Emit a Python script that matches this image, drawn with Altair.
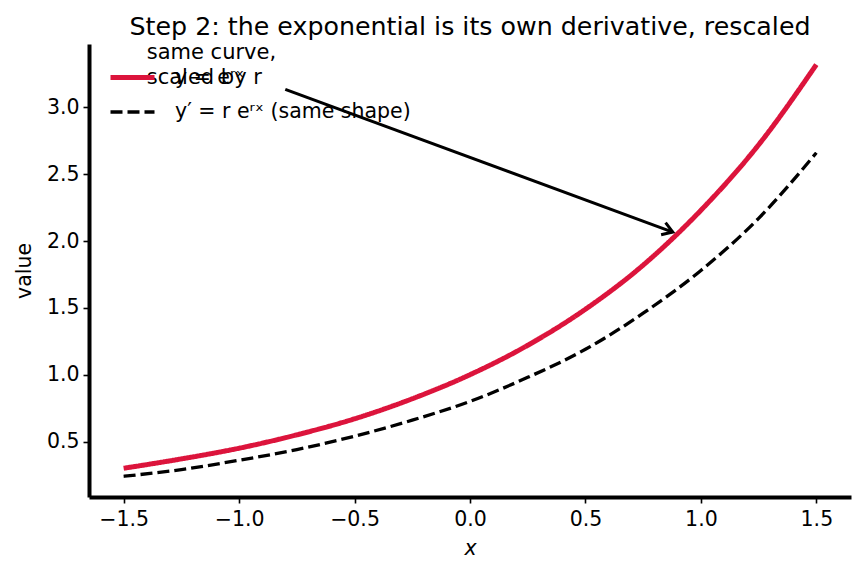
import altair as alt
import pandas as pd

# ---- data ----
x_vals = [-1.5, -1.25, -1.0, -0.75, -0.5, -0.25, 0.0, 0.25, 0.5, 0.75, 1.0, 1.25, 1.5]
y_exp = [0.30, 0.37, 0.45, 0.55, 0.67, 0.82, 1.00, 1.22, 1.49, 1.82, 2.23, 2.72, 3.32]
y_deriv = [0.24, 0.29, 0.36, 0.44, 0.54, 0.66, 0.80, 0.98, 1.19, 1.46, 1.78, 2.17, 2.66]

series_names = ["y = eʳˣ", "y′ = r eʳˣ (same shape)"]
series_colors = ["#DC143C", "#000000"]

x_ticks = [-1.5, -1.0, -0.5, 0.0, 0.5, 1.0, 1.5]
y_ticks = [0.5, 1.0, 1.5, 2.0, 2.5, 3.0]

# annotation (data units)
ann_text = ["same curve,", "scaled by r"]
ann_text_pos = [-1.4, 3.36]
arrow_start = [-0.80, 3.134]
arrow_end = [0.878, 2.067]

FONT = "DejaVu Sans"
FS = 20.5

df = pd.DataFrame({
    "x": x_vals * 2,
    "y": y_exp + y_deriv,
    "series": [series_names[0]] * len(x_vals) + [series_names[1]] * len(x_vals),
})

xscale = alt.Scale(domain=[-1.65, 1.65], nice=False, zero=False)
yscale = alt.Scale(domain=[0.085, 3.474], nice=False, zero=False)

lines = alt.Chart(df).mark_line(interpolate="monotone").encode(
    x=alt.X("x:Q", scale=xscale, title="x",
            axis=alt.Axis(values=x_ticks, format=".1f", titleFontStyle="italic")),
    y=alt.Y("y:Q", scale=yscale, title="value",
            axis=alt.Axis(values=y_ticks, format=".1f")),
    color=alt.Color("series:N", scale=alt.Scale(domain=series_names, range=series_colors),
                    title=None),
    strokeDash=alt.StrokeDash("series:N", scale=alt.Scale(domain=series_names, range=[[1, 0], [12, 5]]),
                              title=None),
    strokeWidth=alt.StrokeWidth("series:N", scale=alt.Scale(domain=series_names, range=[5, 3.3]),
                                title=None),
)

arrow_df = pd.DataFrame({
    "x": [arrow_start[0]], "y": [arrow_start[1]],
    "x2": [arrow_end[0]], "y2": [arrow_end[1]],
})
arrow_line = alt.Chart(arrow_df).mark_rule(color="black", strokeWidth=3).encode(
    x=alt.X("x:Q", scale=xscale), y=alt.Y("y:Q", scale=yscale),
    x2="x2:Q", y2="y2:Q",
)
head_df = pd.DataFrame({"x": [arrow_end[0]], "y": [arrow_end[1]]})
arrow_head = alt.Chart(head_df).mark_point(
    shape="M -1 -0.65 L 0 0 L -1 0.65", filled=False, stroke="black",
    strokeWidth=3, size=400, angle=20, opacity=1,
).encode(x=alt.X("x:Q", scale=xscale), y=alt.Y("y:Q", scale=yscale))

text_df = pd.DataFrame({"x": [ann_text_pos[0]], "y": [ann_text_pos[1]], "t": [ann_text]})
ann = alt.Chart(text_df).mark_text(
    align="left", baseline="alphabetic", font=FONT, fontSize=21, lineHeight=25, color="black",
).encode(x=alt.X("x:Q", scale=xscale), y=alt.Y("y:Q", scale=yscale), text="t")

chart = alt.layer(lines, arrow_line, arrow_head, ann).properties(
    width=762, height=453,
    title=alt.TitleParams("Step 2: the exponential is its own derivative, rescaled",
                          font=FONT, fontSize=25.3, fontWeight="normal", color="black",
                          anchor="middle", offset=2),
    autosize=alt.AutoSizeParams(type="none"),
    padding={"left": 89, "top": 44, "right": 11, "bottom": 76},
).configure_view(stroke=None).configure_axis(
    grid=False, domainColor="black", domainWidth=4, tickColor="black", tickWidth=1.6,
    tickSize=6, labelFont=FONT, labelFontSize=FS, labelColor="black", labelPadding=4,
    titleFont=FONT, titleFontSize=FS, titleColor="black", titleFontWeight="normal",
).configure_axisY(titlePadding=12).configure_axisX(titlePadding=9, labelPadding=6).configure_legend(
    orient="none", legendX=19, legendY=9, padding=0, symbolType="stroke", symbolSize=1936,
    labelFont=FONT, labelFontSize=FS, labelColor="black", labelOffset=18, rowPadding=-6,
    labelLimit=400,
)

chart.save("out.html", embed_options={"renderer": "svg", "actions": False})
